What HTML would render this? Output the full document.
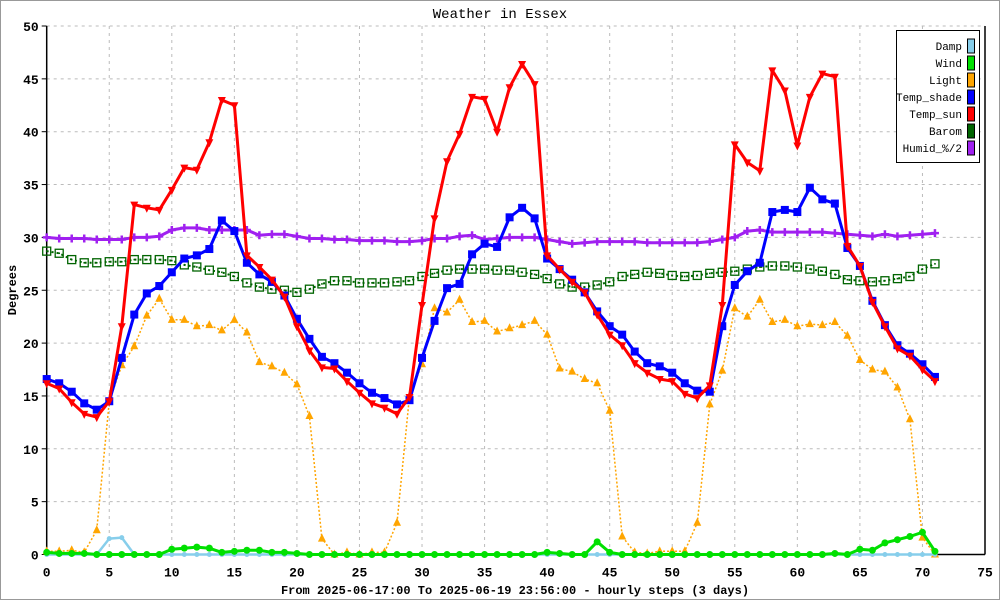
<!DOCTYPE html>
<html><head><meta charset="utf-8"><style>
body{margin:0;background:#fff}
svg{display:block;font-family:"Liberation Mono",monospace}
</style></head><body>
<svg id="c" width="1000" height="600">
<rect x="0.5" y="0.5" width="999" height="599" fill="#fff" stroke="#999"/>
<text x="500" y="18" text-anchor="middle" font-size="14">Weather in Essex</text>
<g id="grid"></g><g id="axes"></g><g id="series"></g>
<text transform="translate(16,290) rotate(-90)" text-anchor="middle" font-size="12" font-weight="bold">Degrees</text>
<text x="515" y="594" text-anchor="middle" font-size="12" font-weight="bold">From 2025-06-17:00 To 2025-06-19 23:56:00 - hourly steps (3 days)</text>
<g id="legend"></g>
</svg>
<script>
const xTicks=[0,5,10,15,20,25,30,35,40,45,50,55,60,65,70,75];
const yTicks=[0,5,10,15,20,25,30,35,40,45,50];
const damp=[0,0,0,0,0,1.5,1.6,0,0,0,0,0,0,0,0,0,0,0,0,0,0,0,0,0,0,0,0,0,0,0,0,0,0,0,0,0,0,0,0,0,0,0,0,0,0,0,0,0,0,0,0,0,0,0,0,0,0,0,0,0,0,0,0,0,0,0,0,0,0,0,0,0];
const wind=[0.2,0.1,0.1,0.1,0,0,0,0,0,0,0.5,0.6,0.7,0.6,0.2,0.3,0.4,0.4,0.2,0.2,0.1,0,0,0,0,0,0,0,0,0,0,0,0,0,0,0,0,0,0,0,0.2,0.1,0,0,1.2,0.2,0,0,0,0,0,0,0,0,0,0,0,0,0,0,0,0,0,0.1,0,0.5,0.4,1.1,1.4,1.7,2.1,0.3];
const light=[0.3,0.3,0.4,0.2,2.3,14.5,17.9,19.7,22.6,24.2,22.2,22.2,21.6,21.7,21.2,22.2,21.0,18.2,17.8,17.2,16.1,13.1,1.5,0.0,0.2,0.0,0.2,0.2,3.0,15.0,18.0,23.3,22.9,24.1,22.0,22.1,21.1,21.4,21.7,22.1,20.8,17.6,17.3,16.6,16.2,13.6,1.7,0.2,0.1,0.3,0.3,0.3,3.0,14.2,17.4,23.3,22.5,24.1,22.0,22.2,21.6,21.8,21.7,22.0,20.7,18.4,17.5,17.3,15.8,12.8,1.6,0.0];
const tempShade=[16.6,16.2,15.4,14.3,13.7,14.5,18.6,22.7,24.7,25.4,26.7,28.0,28.3,28.9,31.6,30.6,27.6,26.5,25.8,24.5,22.3,20.4,18.7,18.1,17.2,16.2,15.3,14.8,14.2,14.6,18.6,22.1,25.2,25.6,28.4,29.4,29.1,31.9,32.8,31.8,28.0,27.0,26.0,24.8,23.0,21.6,20.8,19.2,18.1,17.8,17.2,16.2,15.5,15.4,21.6,25.5,26.8,27.6,32.4,32.6,32.4,34.7,33.6,33.2,29.0,27.3,24.0,21.7,19.8,19.0,18.0,16.8];
const tempSun=[16.2,15.7,14.4,13.3,13.0,14.5,21.6,33.1,32.8,32.6,34.5,36.6,36.4,39.0,43.0,42.5,28.3,27.2,26.0,24.4,21.6,19.3,17.7,17.6,16.4,15.3,14.3,13.9,13.3,14.9,23.6,31.8,37.2,39.8,43.3,43.1,40.0,44.2,46.4,44.5,28.3,27.0,25.8,24.8,22.7,20.8,19.8,18.1,17.2,16.6,16.4,15.2,14.8,16.0,23.6,38.8,37.1,36.3,45.8,43.9,38.7,43.3,45.5,45.2,29.2,27.3,23.9,21.6,19.5,18.8,17.5,16.4];
const barom=[28.7,28.5,27.9,27.6,27.6,27.7,27.7,27.9,27.9,27.9,27.8,27.4,27.2,26.9,26.7,26.3,25.7,25.3,25.1,25.0,24.8,25.1,25.6,25.9,25.9,25.7,25.7,25.7,25.8,25.9,26.3,26.6,26.9,27.0,27.0,27.0,26.9,26.9,26.7,26.5,26.1,25.6,25.3,25.3,25.5,25.8,26.3,26.5,26.7,26.6,26.4,26.3,26.4,26.6,26.7,26.8,27.0,27.2,27.3,27.3,27.2,27.0,26.8,26.5,26.0,25.9,25.8,25.9,26.1,26.3,27.0,27.5];
const humid=[30.0,29.9,29.9,29.9,29.8,29.8,29.8,30.0,30.0,30.1,30.7,30.9,30.9,30.7,30.7,30.7,30.7,30.2,30.3,30.3,30.1,29.9,29.9,29.8,29.8,29.7,29.7,29.7,29.6,29.6,29.7,29.9,29.9,30.1,30.2,29.8,29.9,30.0,30.0,30.0,29.8,29.6,29.4,29.5,29.6,29.6,29.6,29.6,29.5,29.5,29.5,29.5,29.5,29.6,29.8,30.0,30.6,30.7,30.5,30.5,30.5,30.5,30.5,30.4,30.3,30.2,30.1,30.3,30.1,30.2,30.3,30.4];
const seriesNames=["Damp","Wind","Light","Temp_shade","Temp_sun","Barom","Humid_%/2"];

const X0=46.7,X1=985,Y0=554.5,Y1=26;
const sx=v=>X0+(X1-X0)*v/75, sy=v=>Y0-(Y0-Y1)*v/50;
const NS="http://www.w3.org/2000/svg";
function mk(tag,attrs,parent){const e=document.createElementNS(NS,tag);for(const k in attrs)e.setAttribute(k,attrs[k]);parent.appendChild(e);return e;}
const grid=document.getElementById('grid'),axes=document.getElementById('axes'),ser=document.getElementById('series'),leg=document.getElementById('legend');
xTicks.forEach(t=>{
 if(t>0&&t<75){const l=mk('line',{x1:sx(t),x2:sx(t),y1:Y1,y2:Y0,stroke:'#bbb','stroke-dasharray':'3,4'},grid);
 }
 const tx=mk('text',{x:sx(t),y:Y0+22,'text-anchor':'middle','font-size':13,'font-weight':'bold'},axes);tx.textContent=t;
 
});
yTicks.forEach(t=>{
 if(t>0){const l=mk('line',{x1:X0,x2:X1,y1:sy(t),y2:sy(t),stroke:'#bbb','stroke-dasharray':'3,4'},grid);
 }
 const tk=mk('line',{x1:X0-5,x2:X0,y1:sy(t),y2:sy(t),stroke:'#000'},axes);
 
 const tx=mk('text',{x:X0-8,y:sy(t)+5,'text-anchor':'end','font-size':13,'font-weight':'bold'},axes);tx.textContent=t;
 
});
const ax1=mk('line',{x1:X0,x2:X0,y1:Y1,y2:Y0,stroke:'#000','stroke-width':1.5},axes);

const ax2=mk('line',{x1:X0,x2:X1,y1:Y0,y2:Y0,stroke:'#000','stroke-width':1.5},axes);

const ax3=mk('line',{x1:X1,x2:X1,y1:Y1,y2:Y0,stroke:'#000','stroke-width':1.5},axes);


function marker(kind,x,y,color,g){
 let e;
 if(kind==='circle')e=mk('circle',{cx:x,cy:y,r:3.5,fill:color},g);
 else if(kind==='small')e=mk('circle',{cx:x,cy:y,r:2.5,fill:color},g);
 else if(kind==='up')e=mk('polygon',{points:`${x-4},${y+3} ${x+4},${y+3} ${x},${y-5}`,fill:color},g);
 else if(kind==='down')e=mk('polygon',{points:`${x-4},${y-3} ${x+4},${y-3} ${x},${y+5}`,fill:color},g);
 else if(kind==='square')e=mk('rect',{x:x-4,y:y-4,width:8,height:8,fill:color},g);
 else if(kind==='hsquare'){e=mk('rect',{x:x-4,y:y-4,width:8,height:8,fill:'none',stroke:color,'stroke-width':1.3},g);mk('rect',{x:x-0.8,y:y-0.8,width:1.6,height:1.6,fill:color},g);}
 else if(kind==='plus')e=mk('path',{d:`M${x-4},${y}H${x+4}M${x},${y-4}V${y+4}`,stroke:color,'stroke-width':2.5},g);
 
}
function drawSeries(name,data,color,width,dash,kind){
 const g=mk('g',{},ser);
 
 const pts=data.map((v,i)=>sx(i).toFixed(1)+','+sy(v).toFixed(1)).join(' ');
 const pl=mk('polyline',{points:pts,fill:'none',stroke:color,'stroke-width':width,'stroke-linejoin':'round'},g);
 if(dash)pl.setAttribute('stroke-dasharray',dash);
 
 data.forEach((v,i)=>marker(kind,sx(i),sy(v),color,g));
}
drawSeries('barom',barom,'#006400',2,'2,3','hsquare');
drawSeries('humid',humid,'#a020f0',3,null,'plus');
drawSeries('light',light,'#ffa500',1.5,'2,2','up');
drawSeries('damp',damp,'#87ceeb',2.5,null,'small');
drawSeries('wind',wind,'#00e000',3,null,'circle');
drawSeries('temp-shade',tempShade,'#0000ff',3,null,'square');
drawSeries('temp-sun',tempSun,'#ff0000',3,null,'down');

const colors=['#87ceeb','#00e000','#ffa500','#0000ff','#ff0000','#006400','#a020f0'];
const lb=mk('rect',{x:896.5,y:30.5,width:83,height:132,fill:'#fff',stroke:'#000'},leg);

seriesNames.forEach((n,i)=>{
 const y=46+i*17;
 const t=mk('text',{x:962,y:y+4,'text-anchor':'end','font-size':11},leg);t.textContent=n;
 
 const r=mk('rect',{x:967.5,y:y-7,width:7,height:14,fill:colors[i],stroke:'#000'},leg);
 
});
</script>
</body></html>
